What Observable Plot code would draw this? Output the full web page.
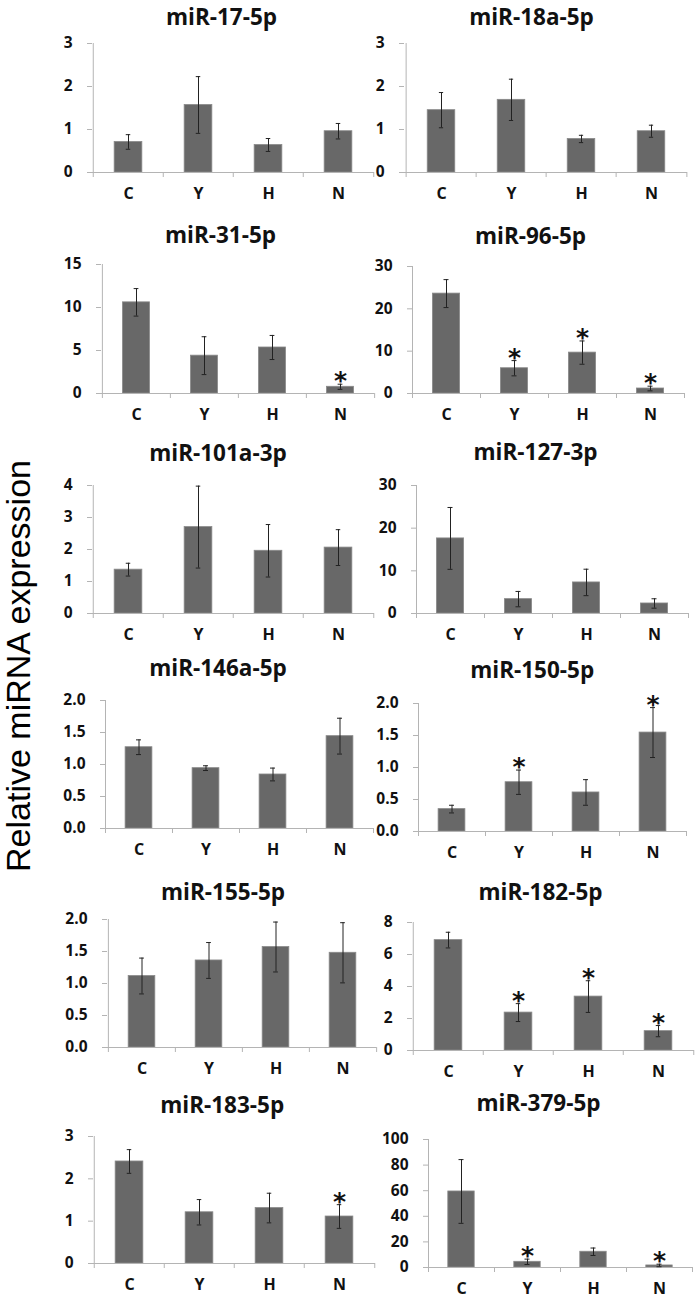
<!DOCTYPE html>
<html>
<head>
<meta charset="utf-8">
<script src="https://cdn.jsdelivr.net/npm/d3@7"></script>
<script src="https://cdn.jsdelivr.net/npm/@observablehq/plot@0.6"></script>
<style>
  html, body { margin: 0; padding: 0; background: #fff; }
  #wrap { position: relative; width: 697px; height: 1299px; overflow: hidden; background: #fff; }
  #wrap svg { position: absolute; }
  #ytitle {
    position: absolute; left: 19px; top: 666px;
    transform: translate(-50%, -50%) rotate(-90deg);
    font-family: "Liberation Sans", Arial, sans-serif; font-size: 34px; line-height: 0.8;
    white-space: nowrap; color: #000;
  }
</style>
</head>
<body>
<div id="wrap"><div id="ytitle">Relative miRNA expression</div></div>
<script>
// ---- data ----
const groups = ["C", "Y", "H", "N"];
const mirnas = ["miR-17-5p", "miR-18a-5p", "miR-31-5p", "miR-96-5p", "miR-101a-3p", "miR-127-3p",
                "miR-146a-5p", "miR-150-5p", "miR-155-5p", "miR-182-5p", "miR-183-5p", "miR-379-5p"];
const means = [
  [0.71, 1.57, 0.64, 0.96],
  [1.45, 1.69, 0.78, 0.96],
  [10.6, 4.4, 5.35, 0.78],
  [23.6, 5.97, 9.66, 1.18],
  [1.37, 2.70, 1.96, 2.06],
  [17.6, 3.37, 7.28, 2.35],
  [1.27, 0.943, 0.844, 1.443],
  [0.35, 0.77, 0.61, 1.546],
  [1.117, 1.36, 1.57, 1.48],
  [6.90, 2.37, 3.37, 1.21],
  [2.41, 1.21, 1.31, 1.11],
  [59.4, 4.45, 12.3, 1.6]
];
const errors = [
  [0.17, 0.66, 0.15, 0.18],
  [0.41, 0.48, 0.085, 0.14],
  [1.6, 2.2, 1.4, 0.3],
  [3.3, 1.8, 2.75, 0.55],
  [0.2, 1.28, 0.82, 0.56],
  [7.25, 1.8, 3.1, 1.1],
  [0.115, 0.037, 0.1, 0.28],
  [0.06, 0.19, 0.2, 0.39],
  [0.28, 0.28, 0.39, 0.47],
  [0.49, 0.56, 0.99, 0.35],
  [0.28, 0.3, 0.35, 0.28],
  [24.9, 2.1, 2.9, 1.0]
];
const stars = [[], [], ["N"], ["Y", "H", "N"], [], [], [], ["Y", "N"], [], ["Y", "H", "N"], ["N"], ["Y", "N"]];
const yMax = [3, 3, 15, 30, 4, 30, 2, 2, 2, 8, 3, 100];
const yStep = [1, 1, 5, 10, 1, 10, 0.5, 0.5, 0.5, 2, 1, 20];

// ---- layout (pixel boxes of each panel's plotting frame) ----
const layout = [
  {x0: 92, x1: 374, yTop: 43, yBot: 172, tx: 221, ty: 17.5},
  {x0: 404, x1: 687, yTop: 43, yBot: 172, tx: 531, ty: 17.5},
  {x0: 101, x1: 374, yTop: 264, yBot: 393, tx: 220, ty: 235},
  {x0: 412, x1: 684, yTop: 266, yBot: 393, tx: 530, ty: 236},
  {x0: 92, x1: 374, yTop: 485, yBot: 613, tx: 217.5, ty: 453},
  {x0: 416, x1: 688, yTop: 485, yBot: 613, tx: 535, ty: 452},
  {x0: 105, x1: 373, yTop: 700, yBot: 828, tx: 217.5, ty: 668},
  {x0: 418, x1: 686, yTop: 703, yBot: 831, tx: 531.7, ty: 670},
  {x0: 107, x1: 376, yTop: 919, yBot: 1047, tx: 222.5, ty: 892},
  {x0: 412, x1: 694, yTop: 922, yBot: 1050, tx: 540, ty: 892},
  {x0: 93, x1: 375, yTop: 1136, yBot: 1263, tx: 221.7, ty: 1105},
  {x0: 428, x1: 692, yTop: 1139, yBot: 1267, tx: 538, ty: 1103}
];

const axisColor = "#b4b4b4";
const barColor = "#686868";
const ML = 72, MR = 14, MB = 30;
const wrap = document.getElementById("wrap");

mirnas.forEach((name, i) => {
  const L = layout[i];
  const MT = Math.min(52, L.yTop);
  const fw = L.x1 - L.x0;
  const step = fw / groups.length;
  const data = groups.map((g, j) => ({g, v: means[i][j], e: errors[i][j], star: stars[i].includes(g)}));
  const ticks = d3.range(0, yMax[i] + yStep[i] / 2, yStep[i]);
  const fmt = yStep[i] < 1 ? d3.format(".1f") : d3.format("d");
  const capInset = (step - 5) / 2;
  const svg = Plot.plot({
    width: fw + ML + MR,
    height: L.yBot - L.yTop + MT + MB,
    marginLeft: ML, marginRight: MR, marginTop: MT, marginBottom: MB,
    style: {background: "none", overflow: "visible", fontFamily: "'Open Sans', sans-serif", color: "#111"},
    x: {type: "band", domain: groups, padding: 0, axis: null},
    y: {domain: [0, yMax[i]], axis: null},
    marks: [
      Plot.barY(data, {x: "g", y: "v", fill: barColor, stroke: "#8a8a8a", strokeWidth: 0.8,
                       insetLeft: step * 0.3, insetRight: step * 0.3}),
      Plot.ruleY([0], {stroke: axisColor}),
      Plot.ruleX([groups[0]], {dx: -step / 2, stroke: axisColor}),
      Plot.ruleX(groups, {y1: 0, y2: 0, dx: -step / 2, insetBottom: -5, stroke: axisColor}),
      Plot.ruleX([groups[groups.length - 1]], {y1: 0, y2: 0, dx: step / 2, insetBottom: -5, stroke: axisColor}),
      Plot.axisY({ticks, tickFormat: fmt, tickSize: 5, tickPadding: 15, stroke: axisColor, fill: "#111",
                  fontSize: 15.5, fontWeight: "bold", label: null}),
      Plot.axisX({tickSize: 0, tickPadding: 15.5, fontSize: 16, fontWeight: "bold", fill: "#111", label: null}),
      Plot.ruleX(data, {x: "g", y1: d => d.v - d.e, y2: d => d.v + d.e, stroke: "#222", strokeWidth: 1}),
      Plot.tickY(data, {x: "g", y: d => d.v + d.e, stroke: "#222", insetLeft: capInset, insetRight: capInset}),
      Plot.tickY(data, {x: "g", y: d => d.v - d.e, stroke: "#222", insetLeft: capInset, insetRight: capInset}),
      Plot.text(data.filter(d => d.star), {x: "g", y: d => d.v + d.e, text: () => "*", dy: -3,
                 fontSize: 25, fontWeight: "bold", fill: "#111", fontFamily: "'DejaVu Sans', sans-serif"}),
      Plot.text([name], {frameAnchor: "top", dx: L.tx - (L.x0 + L.x1) / 2, dy: L.ty - L.yTop,
                 lineAnchor: "middle", fontSize: 22.5, fontWeight: "bold", fill: "#111"})
    ]
  });
  svg.style.left = (L.x0 - ML) + "px";
  svg.style.top = (L.yTop - MT) + "px";
  wrap.appendChild(svg);
});
</script>
</body>
</html>
